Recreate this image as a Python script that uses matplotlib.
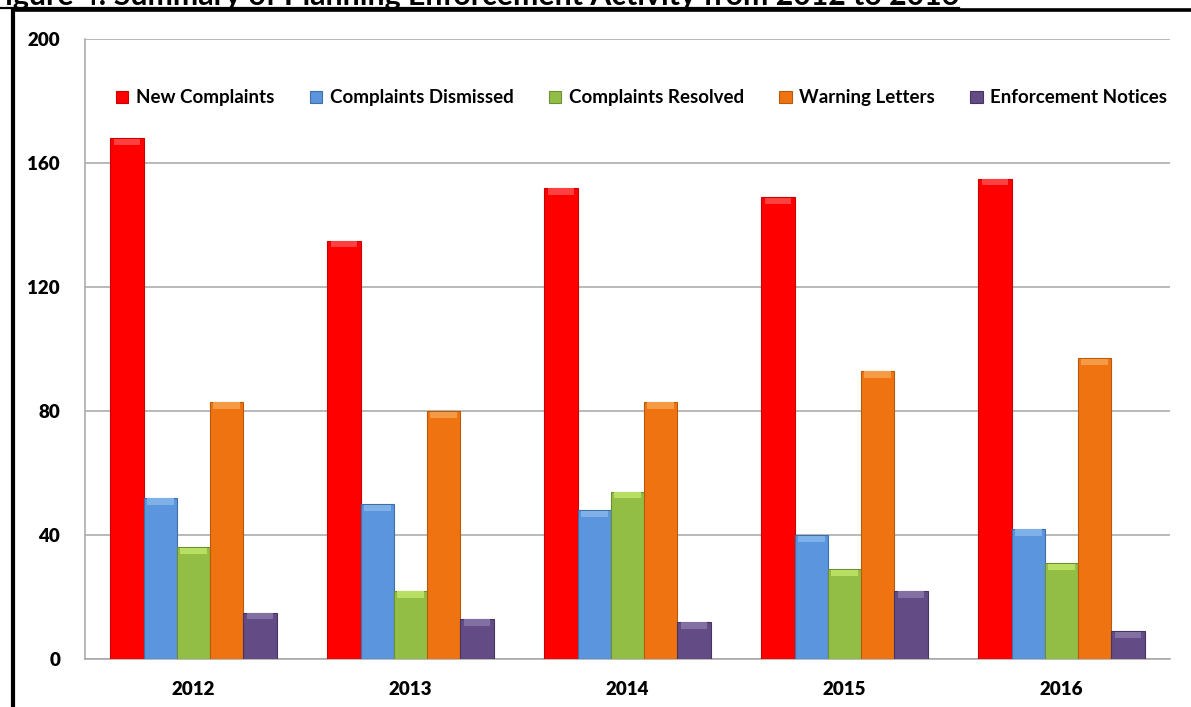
import numpy as np
import matplotlib
matplotlib.use('Agg')
import matplotlib.pyplot as plt
from matplotlib.lines import Line2D

plt.rcParams['font.family'] = ['Lato', 'DejaVu Sans']

# data
years = ['2012', '2013', '2014', '2015', '2016']
series_names = ['New Complaints', 'Complaints Dismissed', 'Complaints Resolved',
                'Warning Letters', 'Enforcement Notices']
new_complaints = [168, 135, 152, 149, 155]
complaints_dismissed = [52, 50, 48, 40, 42]
complaints_resolved = [36, 22, 54, 29, 31]
warning_letters = [83, 80, 83, 93, 97]
enforcement_notices = [15, 13, 12, 22, 9]
y_ticks = [0, 40, 80, 120, 160, 200]

series = [new_complaints, complaints_dismissed, complaints_resolved,
          warning_letters, enforcement_notices]
colors = ['#FF0000', '#5A95DD', '#93BE45', '#EF7411', '#634C85']
edges = ['#C80000', '#3F6FA8', '#6E8E34', '#B85A0C', '#453560']
tops = ['#FF4040', '#80B0E8', '#B8DE62', '#F59A45', '#8270A2']

fig = plt.figure(figsize=(11.91, 7.07), dpi=100)
ax = fig.add_axes([85 / 1191, 48 / 707, 1085 / 1191, 620 / 707])

x = np.arange(len(years))
w = 0.153
for i, (vals, c) in enumerate(zip(series, colors)):
    pos = x + (i - 2) * w
    ax.bar(pos, vals, width=w, color=c, edgecolor=edges[i], linewidth=0.8,
           label=series_names[i], zorder=3)
    # lighter strip at the top of each bar (bevel look)
    ax.bar(pos, [2.0] * len(vals), bottom=[v - 2.2 for v in vals], width=w * 0.8,
           color=tops[i], linewidth=0, zorder=4)

ax.set_xlim(-0.5, len(years) - 0.5)
ax.set_ylim(0, 200)
ax.set_yticks(y_ticks)
ax.set_yticklabels([str(t) for t in y_ticks], fontsize=13.5, fontweight='heavy')
ax.set_xticks(x)
ax.set_xticklabels(years, fontsize=13.5, fontweight='heavy')
ax.tick_params(axis='y', length=0, pad=18)
ax.tick_params(axis='x', length=0, pad=16)
ax.yaxis.grid(True, color='#A6A6A6', linewidth=1.1, zorder=0)
for s in ['top', 'right']:
    ax.spines[s].set_visible(False)
for s in ['left', 'bottom']:
    ax.spines[s].set_color('#A6A6A6')
    ax.spines[s].set_linewidth(1.1)

leg = ax.legend(ncol=5, loc='center', bbox_to_anchor=(0.513, 0.905), frameon=False,
                handlelength=0.65, handleheight=0.65, handletextpad=0.4,
                columnspacing=1.9, prop={'weight': 'bold', 'size': 13.5})

# title, cut off at the top as in the reference
title = fig.text(-12 / 1191, 1 - 5 / 707,
                 'Figure 4: Summary of Planning Enforcement Activity from 2012 to 2016',
                 fontsize=20, fontweight='bold', ha='left', va='baseline')
fig.canvas.draw()
bb = title.get_window_extent()
title.set_fontsize(20 * 967 / bb.width)
fig.canvas.draw()
bb = title.get_window_extent()
fig.add_artist(Line2D([0, bb.x1 / 1191], [1 - 7.5 / 707] * 2, color='black', lw=1.6))

# black frame lines
fig.add_artist(Line2D([13 / 1191, 1], [1 - 9.5 / 707] * 2, color='black', lw=2.6))
fig.add_artist(Line2D([13 / 1191] * 2, [0, 1 - 9.5 / 707], color='black', lw=3.0))

fig.savefig('out.png', dpi=100)
